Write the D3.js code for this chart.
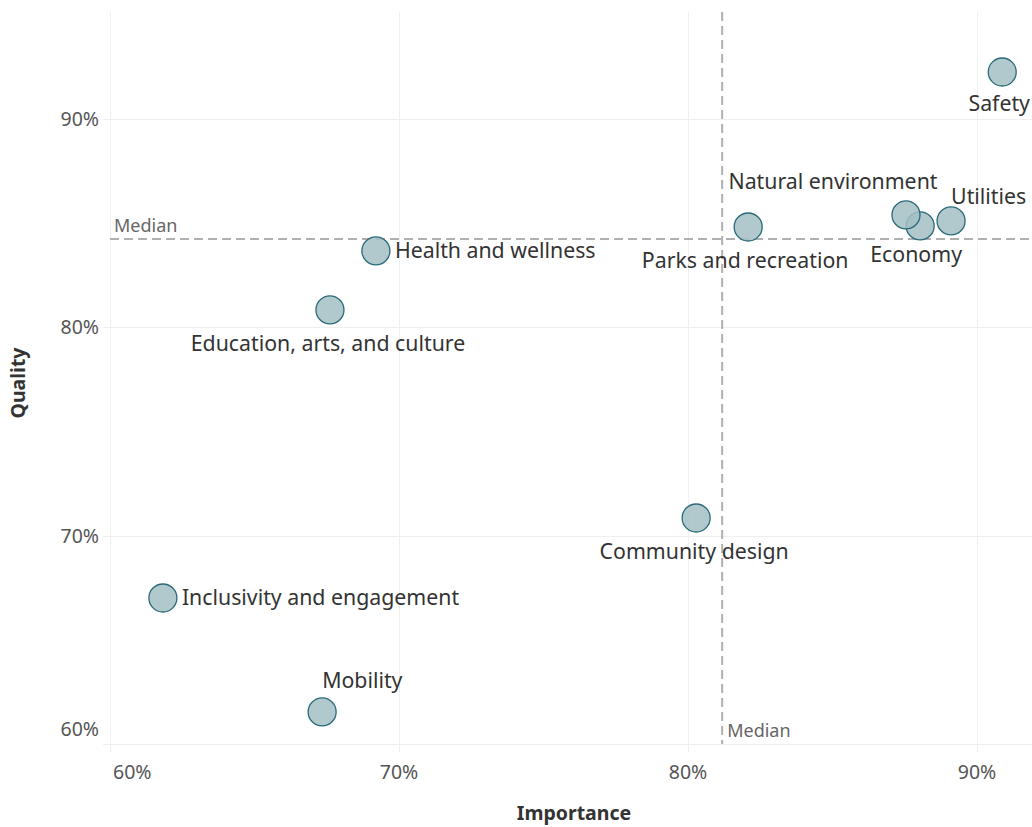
<!DOCTYPE html>
<html>
<head>
<meta charset="utf-8">
<script src="https://cdn.jsdelivr.net/npm/d3@7"></script>
<style>
  body { margin: 0; background: #fff; }
  svg text { font-family: "Noto Sans", sans-serif; }
  .grid line { stroke: #efefef; stroke-width: 1; }
  .tick-label { fill: #555; font-size: 19.5px; }
  .axis-title { fill: #333; font-size: 19.5px; font-weight: bold; }
  .median { stroke: #b0b0b0; stroke-width: 2; stroke-dasharray: 9,5; fill: none; }
  .median-label { fill: #666; font-size: 18px; }
  .dot { fill: #a3bfc3; fill-opacity: 0.85; stroke: #2a6a78; stroke-width: 1.3; }
  .dot-label { fill: #333; font-size: 21.3px; }
</style>
</head>
<body>
<svg id="chart" width="1032" height="827"></svg>
<script>
"use strict";

// survey areas, importance vs quality (%)
var categories = ["Safety", "Utilities", "Economy", "Natural environment", "Parks and recreation",
  "Health and wellness", "Education, arts, and culture", "Community design",
  "Inclusivity and engagement", "Mobility"];
var importance = [90.87, 89.10, 88.03, 87.54, 82.08, 69.20, 67.61, 80.28, 61.83, 67.34];
var quality    = [92.26, 85.11, 84.87, 85.40, 84.82, 83.67, 80.84, 70.85, 67.01, 61.54];
var xTicks = [60, 70, 80, 90];
var yTicks = [60, 70, 80, 90];

// where each label sits relative to its mark (dx, dy, anchor)
var labelPlace = {
  "Safety": [-3, 39, "middle"],
  "Utilities": [0, -17, "start"],
  "Economy": [-4, 36, "middle"],
  "Natural environment": [-73, -26, "middle"],
  "Parks and recreation": [-3, 41, "middle"],
  "Health and wellness": [19, 7, "start"],
  "Education, arts, and culture": [-2, 41, "middle"],
  "Community design": [-2, 41, "middle"],
  "Inclusivity and engagement": [19, 7, "start"],
  "Mobility": [0, -24, "start"]
};

var DATA = categories.map(function(c, i) {
  return { name: c, imp: importance[i], qual: quality[i] };
});

var plot = { left: 110, right: 1032, top: 12, bottom: 744 };

var x = d3.scaleLinear().domain([60, 91.9]).range([plot.left, plot.right]);
var y = d3.scaleLinear().domain([60, 95.14]).range([plot.bottom, plot.top]);

var svg = d3.select("#chart");

// gridlines
var grid = svg.append("g").attr("class", "grid");
grid.selectAll(".vx")
  .data(xTicks)
  .enter().append("line")
    .attr("x1", function(d) { return Math.round(x(d)) + 0.5; })
    .attr("x2", function(d) { return Math.round(x(d)) + 0.5; })
    .attr("y1", plot.top)
    .attr("y2", plot.bottom + 8);
grid.selectAll(".hy")
  .data(yTicks)
  .enter().append("line")
    .attr("x1", plot.left - 7)
    .attr("x2", plot.right)
    .attr("y1", function(d) { return Math.round(y(d)) + 0.5; })
    .attr("y2", function(d) { return Math.round(y(d)) + 0.5; });

// tick labels
svg.selectAll(".xt")
  .data(xTicks)
  .enter().append("text")
    .attr("class", "tick-label")
    .attr("x", function(d, i) { return i === 0 ? x(d) + 3 : x(d); })
    .attr("y", 779)
    .style("text-anchor", function(d, i) { return i === 0 ? "start" : "middle"; })
    .text(function(d) { return d + "%"; });

svg.selectAll(".yt")
  .data(yTicks)
  .enter().append("text")
    .attr("class", "tick-label")
    .attr("x", 99)
    .attr("y", function(d, i) { return i === 0 ? y(d) - 8 : y(d) + 7; })
    .style("text-anchor", "end")
    .text(function(d) { return d + "%"; });

// axis titles
svg.append("text")
  .attr("class", "axis-title")
  .attr("x", (plot.left + plot.right) / 2 + 3)
  .attr("y", 820)
  .style("text-anchor", "middle")
  .text("Importance");

svg.append("text")
  .attr("class", "axis-title")
  .attr("transform", "translate(25," + 383 + ") rotate(-90)")
  .style("text-anchor", "middle")
  .text("Quality");

// median reference lines
var medX = d3.median(importance);
var medY = d3.median(quality);

svg.append("line")
  .attr("class", "median")
  .attr("x1", x(medX)).attr("x2", x(medX))
  .attr("y1", plot.top).attr("y2", plot.bottom);
svg.append("line")
  .attr("class", "median")
  .attr("x1", plot.left).attr("x2", plot.right)
  .attr("y1", y(medY)).attr("y2", y(medY));

svg.append("text")
  .attr("class", "median-label")
  .attr("x", plot.left + 4)
  .attr("y", y(medY) - 7)
  .text("Median");
svg.append("text")
  .attr("class", "median-label")
  .attr("x", x(medX) + 5)
  .attr("y", plot.bottom - 7)
  .text("Median");

// marks
svg.selectAll(".dot")
  .data(DATA)
  .enter().append("circle")
    .attr("class", "dot")
    .attr("cx", function(d) { return x(d.imp); })
    .attr("cy", function(d) { return y(d.qual); })
    .attr("r", 14);

svg.selectAll(".dot-label")
  .data(DATA)
  .enter().append("text")
    .attr("class", "dot-label")
    .attr("x", function(d) { return x(d.imp) + labelPlace[d.name][0]; })
    .attr("y", function(d) { return y(d.qual) + labelPlace[d.name][1]; })
    .style("text-anchor", function(d) { return labelPlace[d.name][2]; })
    .text(function(d) { return d.name; });
</script>
</body>
</html>
